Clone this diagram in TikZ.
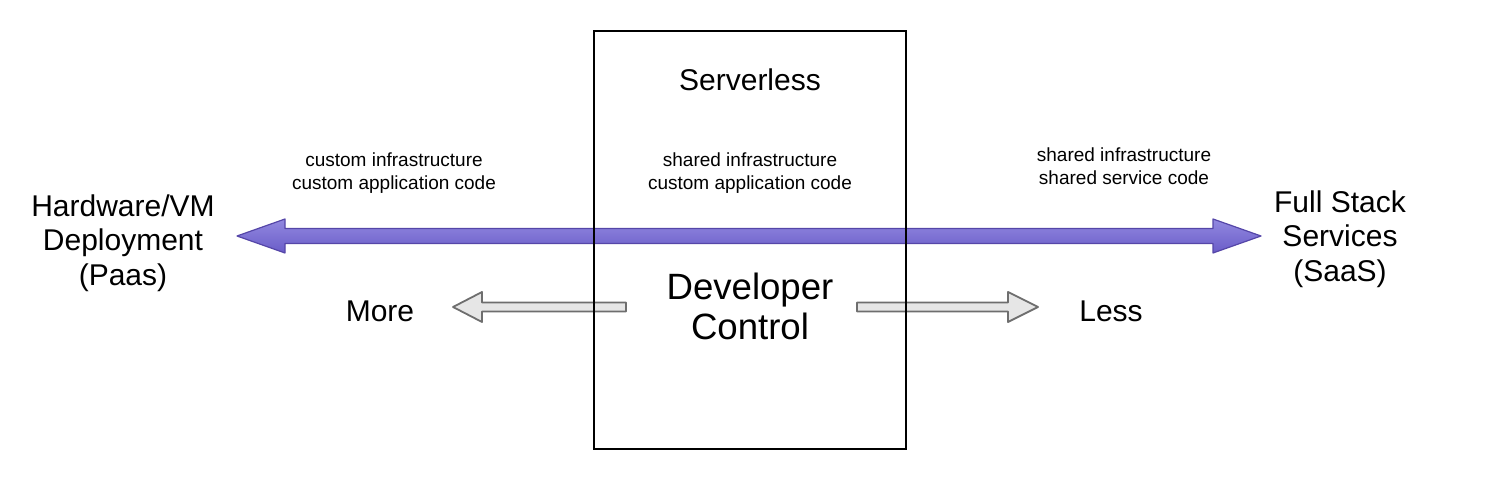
\documentclass[tikz,border=0pt]{standalone}
\usepackage{fontspec}
\setmainfont{Liberation Sans}
\usepackage{xcolor}
\definecolor{spectop}{HTML}{9289E0}
\definecolor{specbot}{HTML}{6A5CC8}
\definecolor{specedge}{HTML}{5546A8}
\definecolor{ctrlfill}{HTML}{E6E6E6}
\definecolor{ctrledge}{HTML}{6E6E6E}
\usetikzlibrary{positioning, calc}

\tikzset{
  biglabel/.style={font=\fontsize{15}{17.3}\selectfont, align=center, inner sep=0pt},
  smalllabel/.style={font=\fontsize{9.5}{11.5}\selectfont, align=center, inner sep=0pt},
  ctrllabel/.style={font=\fontsize{18.3}{20}\selectfont, align=center, inner sep=0pt},
  specarrow/.style={draw=specedge, line width=0.6pt, top color=spectop, bottom color=specbot, line join=round},
  ctrlarrow/.style={draw=ctrledge, fill=ctrlfill, line width=0.9pt, line join=round},
}

\begin{document}
\begin{tikzpicture}[x=0.5pt, y=-0.5pt]
  \useasboundingbox (0,0) rectangle (1512,480);

  % ends of the spectrum
  \node[biglabel] (hw) at (123,243) {Hardware/VM\\Deployment\\(Paas)};
  \node[biglabel] (full) at (1340,239) {Full Stack\\Services\\(SaaS)};

  % what is shared or custom
  \node[smalllabel] (leftinfo) at (394,173) {custom infrastructure\\custom application code};
  \node[smalllabel] (midinfo) at (750,173) {shared infrastructure\\custom application code};
  \node[smalllabel] (rightinfo) at (1124,166) {shared infrastructure\\shared service code};

  % spectrum arrow
  \coordinate (specl) at (237,236);
  \coordinate (specr) at (1261,236);
  \draw[specarrow] (specl) -- ++(48,-17) -- ++(0,9.5)
    -- ($(specr)+(-48,-7.5)$) -- ++(0,-9.5) -- (specr)
    -- ++(-48,17) -- ++(0,-9.5) -- ($(specl)+(48,7.5)$) -- ++(0,9.5) -- cycle;

  % developer control
  \node[ctrllabel] (ctrl) at (750,306.5) {Developer\\Control};
  \node[biglabel] (more) at (380,311) {More};
  \node[biglabel] (less) at (1111,311) {Less};

  \coordinate (morel) at (453,307);
  \coordinate (moret) at (626,307);
  \draw[ctrlarrow] (moret) -- ++(0,-4.5) -- ($(morel)+(29,-4.5)$) -- ++(0,-10.5)
    -- (morel) -- ++(29,15) -- ++(0,-10.5) -- ($(moret)+(0,4.5)$) -- cycle;

  \coordinate (lesst) at (857,307);
  \coordinate (lessr) at (1038,307);
  \draw[ctrlarrow] (lesst) -- ++(0,-4.5) -- ($(lessr)+(-30,-4.5)$) -- ++(0,-10.5)
    -- (lessr) -- ++(-30,15) -- ++(0,-10.5) -- ($(lesst)+(0,4.5)$) -- cycle;

  % serverless box
  \node[draw, line width=0.8pt, minimum width=156pt, minimum height=209pt, inner sep=0pt] (box) at (750,240) {};
  \node[biglabel] (title) at (750,80) {Serverless};

\end{tikzpicture}
\end{document}
